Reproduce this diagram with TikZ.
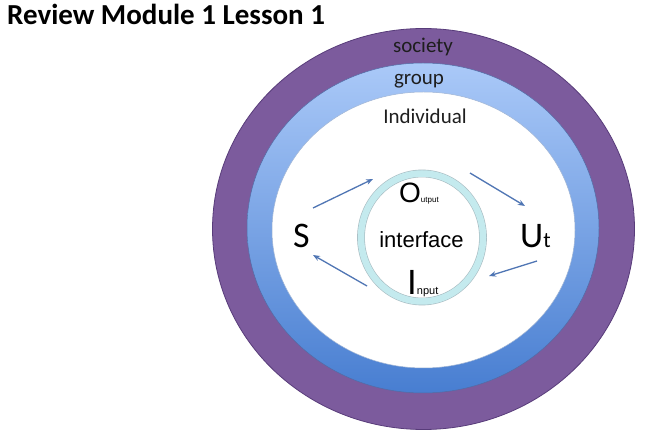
\documentclass[tikz,border=0pt]{standalone}
\usepackage{fontspec}
\setmainfont{Carlito}
\newfontfamily\arialfont{Liberation Sans}
\usetikzlibrary{arrows.meta}
\definecolor{societypurple}{RGB}{124,91,157}
\definecolor{societyedge}{RGB}{88,60,122}
\definecolor{grouplight}{RGB}{170,201,248}
\definecolor{groupdark}{RGB}{72,126,209}
\definecolor{groupedge}{RGB}{82,108,165}
\definecolor{ringcyan}{RGB}{196,234,238}
\definecolor{ringedge}{RGB}{168,188,194}
\definecolor{flowblue}{RGB}{80,118,180}
\definecolor{labelgray}{RGB}{30,30,30}
\tikzset{lbl/.style={font=\fontsize{21}{21}\selectfont,text=labelgray,anchor=base,inner sep=0pt}}
\tikzset{big/.style={font=\fontsize{36}{36}\selectfont,anchor=base west,inner sep=0pt}}
\tikzset{io/.style={anchor=base west,inner sep=0pt}}
\tikzset{flow/.style={-{Stealth[length=7pt,width=5.5pt]},draw=flowblue,line width=1.3pt}}

\begin{document}
\begin{tikzpicture}[x=1pt,y=-1pt]
\useasboundingbox (0,0) rectangle (648,443);
\fill[white] (0,0) rectangle (648,443);
% rings
\filldraw[fill=societypurple,draw=societyedge,line width=0.8pt] (423.5,229) ellipse [x radius=211,y radius=200.5];
\shadedraw[top color=grouplight,bottom color=groupdark,draw=groupedge,line width=0.5pt] (423,228) ellipse [x radius=176,y radius=165];
\filldraw[fill=white,draw=grouplight!70!gray,line width=0.5pt] (423.5,230) ellipse [x radius=151.5,y radius=138];
\draw[draw=ringedge,double=ringcyan,double distance=6.5pt,line width=0.6pt] (422,237.5) ellipse [x radius=61,y radius=64];

\node[anchor=base west,inner sep=0pt,font=\bfseries\fontsize{29}{29}\selectfont](title) at (7,25) {Review Module 1 Lesson 1};
\node[lbl](society) at (423,53) {society};
\node[lbl](group) at (419,85) {group};
\node[lbl](individual) at (425,124) {Individual};
\node[big](S) at (293,248) {S};
\node[big](U) at (520,248) {U{\fontsize{22}{22}\selectfont t}};
\node[io,anchor=base,font=\arialfont\fontsize{22}{22}\selectfont](interface) at (421.5,248) {interface};
\node[io,font=\arialfont\fontsize{28}{28}\selectfont](O) at (399,203) {O{\fontsize{8}{8}\selectfont utput}};
\node[io,font=\arialfont\fontsize{35}{35}\selectfont](I) at (407,295) {I{\fontsize{11}{11}\selectfont nput}};

\coordinate (so-tail) at (313,208);
\coordinate (so-head) at (373,179);
\coordinate (ou-tail) at (470,173);
\coordinate (ou-head) at (525,206);
\coordinate (ui-tail) at (537,261);
\coordinate (ui-head) at (489,276);
\coordinate (is-tail) at (367,286);
\coordinate (is-head) at (313,255);

\draw[flow] (so-tail) -- (so-head);
\draw[flow] (ou-tail) -- (ou-head);
\draw[flow] (ui-tail) -- (ui-head);
\draw[flow] (is-tail) -- (is-head);
\end{tikzpicture}
\end{document}
